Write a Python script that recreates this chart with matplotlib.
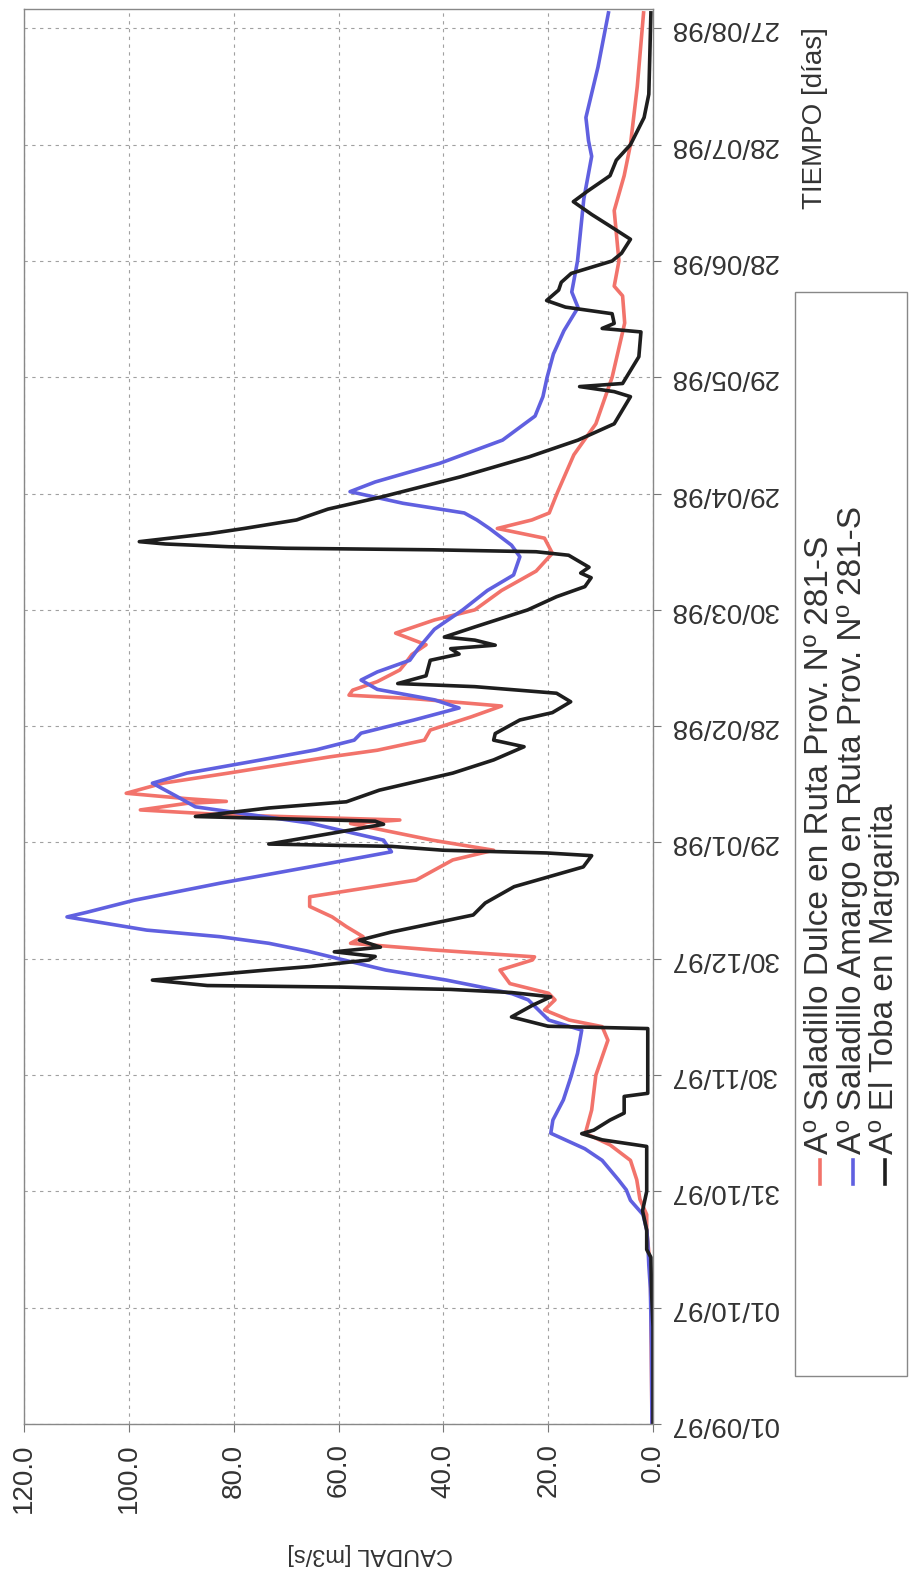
import matplotlib
matplotlib.use('Agg')
import matplotlib.pyplot as plt
import numpy as np
import pandas as pd
from matplotlib.lines import Line2D
from matplotlib.patches import Rectangle
from matplotlib.ticker import FormatStrFormatter

plt.rcParams['font.family'] = ['Liberation Sans', 'DejaVu Sans']

# days counted from 01/09/97
start_date = '1997-09-01'
date_ticks = pd.date_range(start_date, periods=13, freq='30D')
date_labels = [d.strftime('%d/%m/%y') for d in date_ticks]
caudal_ticks = [0, 20, 40, 60, 80, 100, 120]

series_names = ['A\u00ba Saladillo Dulce en Ruta Prov. N\u00ba 281-S',
                'A\u00ba Saladillo Amargo en Ruta Prov. N\u00ba 281-S',
                'A\u00ba El Toba en Margarita']

# A° Saladillo Dulce (red)
dias_dulce = [0, 30, 40, 50, 54, 58, 63, 68, 72, 75, 81, 90, 99, 102.5, 104.2, 106.8,
              109.4, 111.1, 113.6, 117.1, 119.7, 120.5, 122.3, 124, 125.7, 128.3, 130.8,
              133.5, 136, 140.3, 145.5, 148, 150.6, 154.9, 155.8, 157.1, 158.4, 160.1,
              160.6, 161.3, 162.7, 165.3, 167.9, 172.1, 173.8, 176.4, 179, 182.4, 185.2,
              187.1, 188, 189.3, 191.5, 194.5, 196.3, 198.5, 201, 204, 207.4, 210, 215,
              220, 224.6, 228.5, 231, 233.2, 235, 240.4, 250, 258, 270, 284, 291, 293.5,
              300, 313, 322, 330, 345, 364]
caudal_dulce = [0.2, 0.4, 0.5, 1.2, 1.2, 2.5, 3.1, 4.3, 8.2, 12.9, 11.7, 10.9, 8.6, 9.7,
                16, 20.7, 18.7, 19.9, 27.3, 29.2, 23, 22.6, 42.1, 57.7, 55.3, 58.5, 61.2,
                65.5, 65.5, 45.2, 38.2, 30.4, 42.1, 57.7, 48.3, 81, 97.8, 88.9, 81.4, 88.9,
                100.5, 93.5, 81, 61.6, 52.6, 43.6, 42.5, 34.7, 28.9, 45.6, 58, 57.3, 52.6,
                48.3, 47.2, 46, 43.3, 49.1, 41.7, 34, 28.9, 22.3, 19.2, 20.7, 29.7, 23.1,
                19.8, 18.2, 15.1, 10.9, 7.8, 5.4, 5.8, 7.4, 6.5, 7.4, 5.5, 4.3, 3, 1.8]

# A° Saladillo Amargo (blue)
dias_amargo = [0, 20, 35, 41, 47, 50, 54, 57.7, 60.4, 63, 68, 71, 75, 78.4, 83.6, 89.8,
               95.6, 101.6, 103, 104.2, 107, 109.4, 111, 112.8, 114.5, 117.1, 119.7, 122,
               124, 125.7, 127.4, 130.8, 132, 135.1, 139.5, 143.7, 147.6, 150.6, 155,
               159.2, 162, 165.3, 167.9, 171.3, 173.9, 176.4, 178.2, 181.6, 184.7, 186.8,
               189.5, 191.9, 194, 197, 200, 205, 210, 215, 219, 223.7, 226.7, 231, 233.2,
               235, 237.5, 240.5, 243, 247.8, 253.8, 260, 265, 270, 276, 282, 288, 292,
               300, 316, 327, 331, 337, 350, 364]
caudal_amargo = [0.2, 0.3, 0.5, 0.8, 1.0, 1.2, 1.9, 4.3, 5.1, 6.6, 9.7, 13, 19.5, 19.1,
                 17.1, 15.6, 14.4, 13.6, 17, 19.9, 22, 23.8, 26.9, 33.1, 39.4, 51, 59, 66,
                 73.3, 82.6, 96.6, 111.8, 108, 99, 82.6, 65.5, 49.9, 51.4, 65.5, 87.3, 91,
                 95.5, 88.9, 74.8, 64.3, 57, 55.7, 45.6, 37, 41.7, 52.6, 55.7, 52.6, 46.4,
                 44.8, 41.7, 36.3, 31.6, 26.6, 25.4, 27, 31.2, 33.6, 36, 47.7, 57.8, 53,
                 40.7, 28.7, 22.5, 21, 20.2, 19, 17, 14.3, 15.5, 14.4, 13.2, 11.7, 12.3,
                 12.8, 10.5, 8.5]

# A° El Toba (black)
dias_toba = [0, 25, 35, 43, 45, 50, 55, 60, 66, 71.6, 73.3, 74.9, 75.8, 78.4, 80.2, 84.5,
             85.3, 95, 102, 102.6, 105, 108, 110.2, 111.3, 112.1, 112.7, 113.1, 114.5,
             117.1, 118, 119.7, 120.6, 121.8, 123, 124.8, 126.9, 131.3, 134.4, 138.6,
             143.7, 146.6, 147.3, 148, 149, 149.6, 152.3, 154.7, 155.5, 156.7, 158.9,
             160.5, 163.5, 167.9, 171.3, 174.7, 176.4, 178.1, 181.6, 183.5, 186.3, 188.5,
             190.2, 191, 193, 197, 198.6, 200, 200.9, 202.2, 203, 205.6, 210, 213.4, 216,
             218.3, 219.5, 221, 224.1, 225, 225.5, 225.9, 226.3, 227, 227.6, 229.7, 231,
             233.2, 236, 239.2, 244.3, 249.5, 253.8, 258, 265, 266.3, 267.6, 268.4, 275.3,
             281.7, 282.6, 283.9, 286.4, 288.1, 289.8, 292.5, 294.5, 296.8, 300, 302,
             305.6, 309, 312, 315.3, 318, 322, 326, 330, 337, 343, 364]
caudal_toba = [0, 0, 0.3, 0.4, 1.2, 1.2, 2, 1.2, 1.2, 1.2, 9.7, 13.6, 11.3, 8.2, 5.5, 5.5,
               1.0, 1.0, 1.0, 20, 27, 23, 19.5, 27, 38.6, 59.6, 85, 95.5, 73.7, 65.5, 54.2,
               53, 60.8, 52, 56, 49.9, 34.3, 32, 26.5, 13.3, 11.7, 20.3, 40, 49.9, 73.3,
               61.6, 51.4, 53, 87.3, 73.3, 58.5, 52.2, 38.2, 30.4, 24.6, 30.4, 30.1, 25.4,
               19.2, 15.7, 18.4, 34, 48.7, 43.3, 42.5, 37, 38.6, 30.1, 34, 39.8, 34, 23.9,
               18.4, 13, 11.8, 13.8, 12.2, 16.1, 22.3, 42, 70, 81, 93, 98, 84.5, 78, 68, 62,
               51.6, 36.8, 23.6, 14.3, 7.4, 4.3, 7.4, 14, 5.8, 2.7, 2.3, 9.7, 7.4, 7.8,
               16.7, 20.3, 18, 17.5, 15.6, 7.8, 6, 4.3, 8.2, 11.7, 15.2, 12.5, 8.2, 7, 4.3,
               1.7, 0.8, 0.4]

colors = ['#f2736b', '#6060e0', '#1e1e1e']

W, H = 909, 1572
fig = plt.figure(figsize=(W / 100, H / 100), dpi=100)
# the chart is printed sideways: caudal runs right to left, time bottom to top
ax = fig.add_axes([24 / W, 1 - 1424 / H, 629 / W, 1415 / H])

series = [(dias_dulce, caudal_dulce), (dias_amargo, caudal_amargo), (dias_toba, caudal_toba)]
for (d, q), c in zip(series, colors):
    ax.plot(q, d, color=c, lw=2.6, solid_joinstyle='round')

ax.set_xlim(120, 0)
ax.set_ylim(0, 365)
ax.set_xticks(caudal_ticks)
ax.xaxis.set_major_formatter(FormatStrFormatter('%.1f'))
day_pos = [(d - date_ticks[0]).days for d in date_ticks]
ax.yaxis.tick_right()
ax.set_yticks(day_pos)
ax.set_yticklabels(date_labels, rotation=180, va='center')
ax.tick_params(axis='x', labelrotation=90, labelsize=20, length=6, pad=8,
               color='#777777', labelcolor='#333333')
ax.tick_params(axis='y', labelsize=20, length=6, pad=6,
               color='#777777', labelcolor='#333333')
ax.grid(True, color='#a0a0a0', linestyle=(0, (3, 4)), linewidth=0.8)
for s in ax.spines.values():
    s.set_color('#888888')
    s.set_linewidth(1)

fig.text(370 / W, 1 - 1554 / H, 'CAUDAL [m3/s]', rotation=180, ha='center', va='center',
         fontsize=17, color='#333333')
fig.text(815 / W, 1 - 118 / H, 'TIEMPO [d\u00edas]', rotation=90, ha='center', va='center',
         fontsize=20, color='#333333')

# legend, drawn by hand because it is turned too
fig.add_artist(Rectangle((795 / W, 1 - 1376 / H), 112 / W, 1084 / H,
                         transform=fig.transFigure, fill=False,
                         edgecolor='#888888', lw=1))
for i, (name, c) in enumerate(zip(series_names, colors)):
    x = (820 + 32.5 * i) / W
    fig.add_artist(Line2D([x, x], [1 - 1184 / H, 1 - 1160 / H], color=c, lw=2.6,
                          transform=fig.transFigure))
    fig.text(x, 1 - 1154 / H, name, rotation=90, rotation_mode='anchor',
             ha='left', va='center', fontsize=24, color='#333333')

fig.savefig('out.png', dpi=100)
